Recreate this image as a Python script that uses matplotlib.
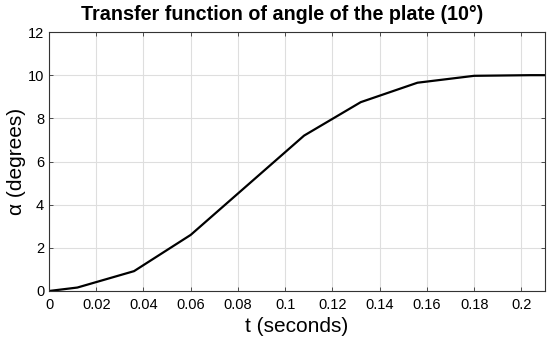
import matplotlib
matplotlib.use("Agg")
import matplotlib.pyplot as plt

# step response samples (seconds, degrees)
t = [0, 0.012, 0.036, 0.06, 0.084, 0.108, 0.132, 0.156, 0.18, 0.204, 0.21]
alpha = [0, 0.16, 0.92, 2.6, 4.9, 7.2, 8.75, 9.65, 9.97, 10.0, 10.0]

x_ticks = [0, 0.02, 0.04, 0.06, 0.08, 0.1, 0.12, 0.14, 0.16, 0.18, 0.2]
x_labels = ["0", "0.02", "0.04", "0.06", "0.08", "0.1", "0.12", "0.14", "0.16", "0.18", "0.2"]
y_ticks = [0, 2, 4, 6, 8, 10, 12]

plt.rcParams['font.family'] = ['Liberation Sans', 'DejaVu Sans']

fig = plt.figure(figsize=(5.5, 3.41), dpi=100)
ax = fig.add_axes([49/550, 1 - 291/341, (545 - 49)/550, (291 - 32)/341])

ax.plot(t, alpha, color="k", linewidth=1.6)

ax.set_xlim(0, 0.21)
ax.set_ylim(0, 12)
ax.set_xticks(x_ticks)
ax.set_xticklabels(x_labels)
ax.set_yticks(y_ticks)
ax.grid(True, color="#dedede", linewidth=0.8)
ax.set_axisbelow(True)
ax.tick_params(direction="in", length=3, labelsize=10.5, top=True, right=True,
               color="#333333", width=0.6)
ax.tick_params(axis="x", pad=5)
for s in ax.spines.values():
    s.set_color("#333333")
    s.set_linewidth(0.8)

ax.set_title("Transfer function of angle of the plate (10°)", fontsize=14.2,
             fontweight="bold", pad=9, x=0.471)
ax.set_xlabel("t (seconds)", fontsize=15, labelpad=4)
ax.set_ylabel("α (degrees)", fontsize=15, labelpad=1)

fig.savefig("out.png", dpi=100)
